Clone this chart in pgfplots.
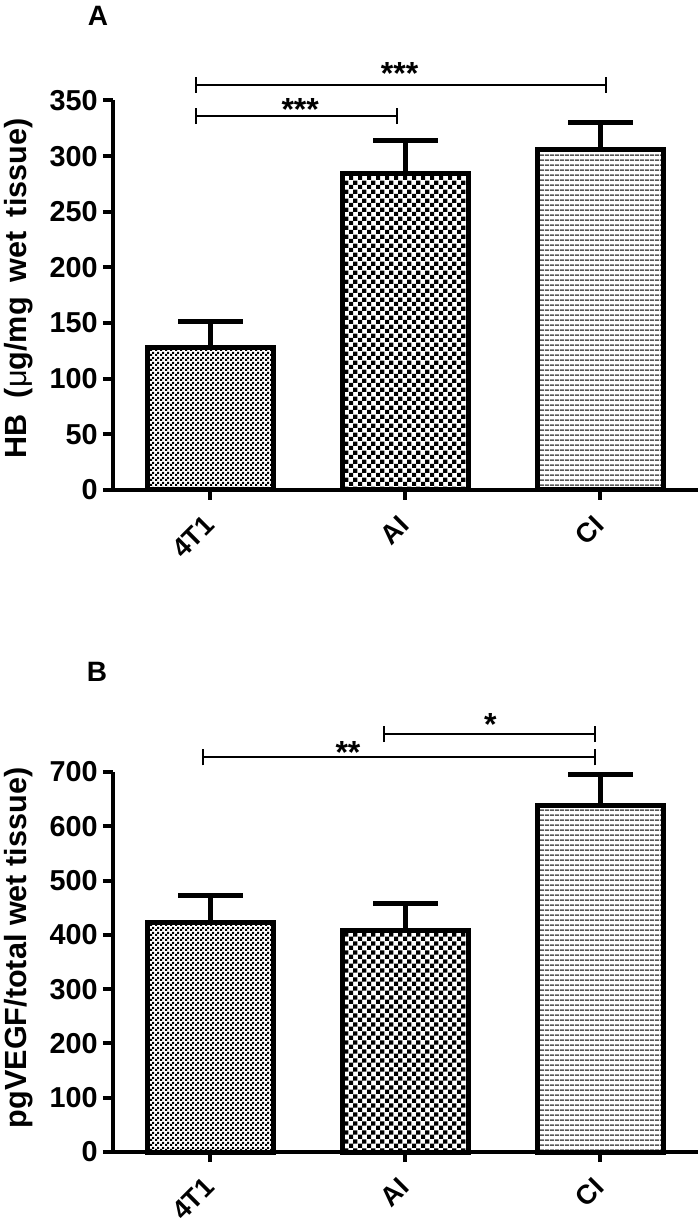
\documentclass[border=0pt]{standalone}
\usepackage{fontspec}
\setmainfont{Liberation Sans}
\usepackage{pgfplots}
\pgfplotsset{compat=1.18}
\usetikzlibrary{patterns}

\pgfdeclarepatternformonly{finecheck}{\pgfpointorigin}{\pgfqpoint{2.5pt}{2.5pt}}{\pgfqpoint{2.5pt}{2.5pt}}{%
  \pgfpathrectangle{\pgfpointorigin}{\pgfqpoint{1.25pt}{1.25pt}}%
  \pgfpathrectangle{\pgfqpoint{1.25pt}{1.25pt}}{\pgfqpoint{1.25pt}{1.25pt}}%
  \pgfusepath{fill}}
\pgfdeclarepatternformonly{coarsecheck}{\pgfpointorigin}{\pgfqpoint{4.6pt}{4.6pt}}{\pgfqpoint{4.6pt}{4.6pt}}{%
  \pgfpathrectangle{\pgfpointorigin}{\pgfqpoint{2.3pt}{2.3pt}}%
  \pgfpathrectangle{\pgfqpoint{2.3pt}{2.3pt}}{\pgfqpoint{2.3pt}{2.3pt}}%
  \pgfusepath{fill}}
\pgfdeclarepatternformonly{hlinesfine}{\pgfpointorigin}{\pgfqpoint{2.5pt}{2.5pt}}{\pgfqpoint{2.5pt}{2.5pt}}{%
  \pgfpathrectangle{\pgfpointorigin}{\pgfqpoint{2.5pt}{0.9pt}}%
  \pgfusepath{fill}}

\tikzset{
  brk/.style={line width=0.9pt, black},
  stars/.style={anchor=base, inner sep=0pt, font=\fontsize{16}{16}\selectfont\bfseries},
}
\pgfplotsset{
  myaxis/.style={
    scale only axis, width=292.5pt,
    xmin=-0.5, xmax=2.5, ymin=0,
    axis x line*=bottom, axis y line*=left,
    axis line style={line width=2pt, black},
    tick align=outside, major tick length=5pt,
    tick style={line width=2pt, black},
    xtick={0,1,2}, xticklabels={4T1,AI,CI},
    clip=false,
    /pgf/number format/assume math mode=true,
    yticklabel style={font=\fontsize{14.4}{16}\selectfont\bfseries, inner sep=0pt, xshift=-2.5pt},
    xticklabel style={font=\fontsize{13.5}{16}\selectfont\bfseries, rotate=45, anchor=east, inner sep=0pt, yshift=-6.9pt, xshift=-7.4pt},
    ylabel style={font=\fontsize{15.3}{17}\selectfont\bfseries, anchor=base, yshift=43pt},
  },
  barstyle/.style={ybar, bar shift=0pt, bar width=0.65, draw=black, line width=2.5pt},
  errstyle/.style={black, line width=2.5pt, no marks, line cap=butt},
}

\begin{document}
\begin{tikzpicture}
% ---------------- Panel A ----------------
\begin{axis}[myaxis, at={(0,331pt)}, anchor=south west, height=194.75pt,
  ymax=350, ytick={0,50,...,350},
  ylabel={HB\hspace{4pt} ({\mdseries μ}g/mg\hspace{3pt} wet\hspace{3pt} tissue)},
  ylabel style={at={(axis description cs:0,0.517)}}]
\addplot[barstyle, pattern=finecheck, pattern color=black] coordinates {(0,128)};
\addplot[barstyle, pattern=coarsecheck, pattern color=black] coordinates {(1,284)};
\addplot[barstyle, pattern=hlinesfine, pattern color=black!65] coordinates {(2,306)};
% error bars (mean + SEM)
\addplot[errstyle] coordinates {(0,128) (0,151)};
\addplot[errstyle] coordinates {(-0.165,151) (0.165,151)};
\addplot[errstyle] coordinates {(1,284) (1,314)};
\addplot[errstyle] coordinates {(0.835,314) (1.165,314)};
\addplot[errstyle] coordinates {(2,306) (2,330)};
\addplot[errstyle] coordinates {(1.835,330) (2.165,330)};
% significance brackets
\draw[brk] (axis cs:-0.074,336) -- (axis cs:0.956,336);
\draw[brk] (axis cs:-0.074,336) ++(0pt,-4pt) -- ++(0pt,8pt);
\draw[brk] (axis cs:0.956,336) ++(0pt,-4pt) -- ++(0pt,8pt);
\draw[brk] (axis cs:-0.074,364) -- (axis cs:2.03,364);
\draw[brk] (axis cs:-0.074,364) ++(0pt,-4pt) -- ++(0pt,8pt);
\draw[brk] (axis cs:2.03,364) ++(0pt,-4pt) -- ++(0pt,8pt);
\node[stars] at (axis cs:0.46,332) {***};
\node[stars] at (axis cs:0.97,364) {***};
\end{axis}
% ---------------- Panel B ----------------
\begin{axis}[myaxis, at={(0,0)}, anchor=south west, height=190pt,
  ymax=700, ytick={0,100,...,700},
  ylabel={pgVEGF/total wet tissue)},
  ylabel style={at={(axis description cs:0,0.537)}}]
\addplot[barstyle, pattern=finecheck, pattern color=black] coordinates {(0,422)};
\addplot[barstyle, pattern=coarsecheck, pattern color=black] coordinates {(1,408)};
\addplot[barstyle, pattern=hlinesfine, pattern color=black!65] coordinates {(2,638)};
\addplot[errstyle] coordinates {(0,422) (0,473)};
\addplot[errstyle] coordinates {(-0.165,473) (0.165,473)};
\addplot[errstyle] coordinates {(1,408) (1,457)};
\addplot[errstyle] coordinates {(0.835,457) (1.165,457)};
\addplot[errstyle] coordinates {(2,638) (2,696)};
\addplot[errstyle] coordinates {(1.835,696) (2.165,696)};
\draw[brk] (axis cs:-0.04,727) -- (axis cs:1.97,727);
\draw[brk] (axis cs:-0.04,727) ++(0pt,-4pt) -- ++(0pt,8pt);
\draw[brk] (axis cs:1.97,727) ++(0pt,-4pt) -- ++(0pt,8pt);
\draw[brk] (axis cs:0.89,770) -- (axis cs:1.97,770);
\draw[brk] (axis cs:0.89,770) ++(0pt,-4pt) -- ++(0pt,8pt);
\draw[brk] (axis cs:1.97,770) ++(0pt,-4pt) -- ++(0pt,8pt);
\node[stars] at (axis cs:0.705,715) {**};
\node[stars] at (axis cs:1.435,767) {*};
\end{axis}
\node[font=\fontsize{14}{14}\selectfont\bfseries] at (-7.5pt,568pt) {A};
\node[font=\fontsize{14}{14}\selectfont\bfseries] at (-8pt,240pt) {B};
\pgfresetboundingbox
\path (-56.5pt,-34.5pt) rectangle (293.5pt,576pt);
\end{tikzpicture}
\end{document}
